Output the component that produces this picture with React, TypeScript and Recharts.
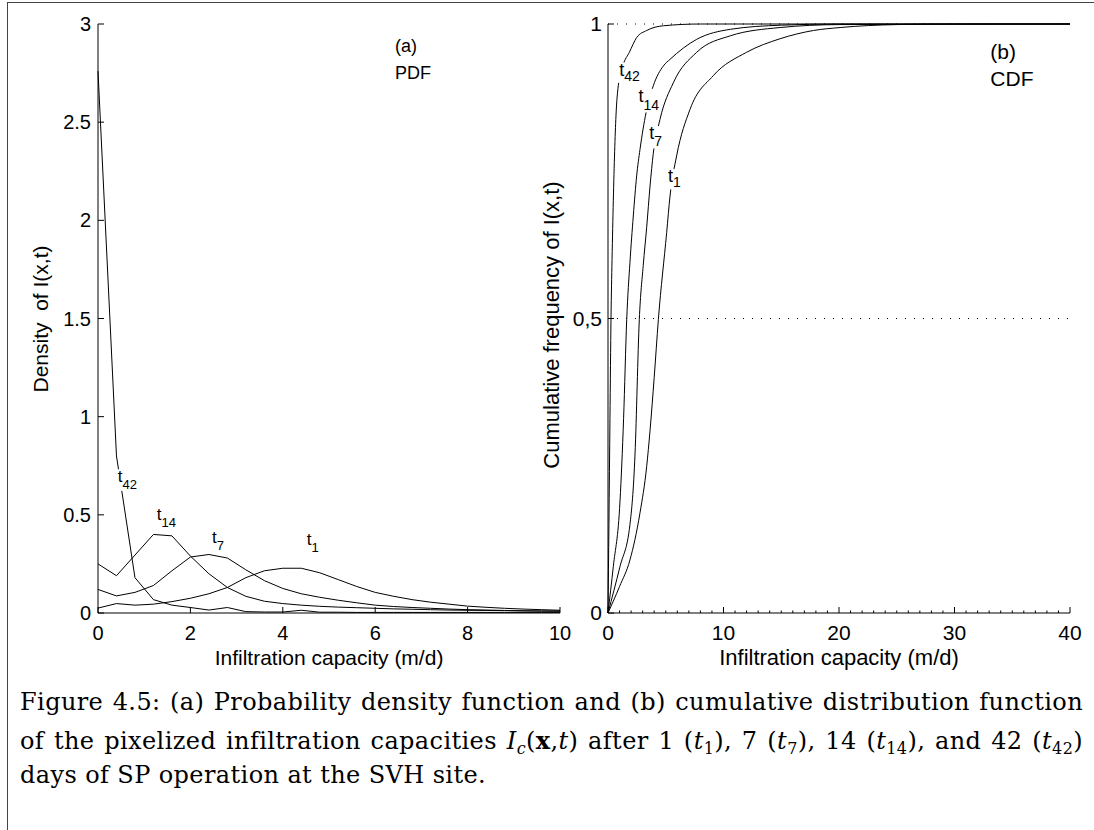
import React from 'react';
import { LineChart, Line, XAxis, YAxis, ReferenceDot, ReferenceLine, Label } from 'recharts';

const SANS = '"Liberation Sans", Arial, Helvetica, sans-serif';
const SERIF = '"DejaVu Serif", "Liberation Serif", serif';

// (a) PDF: densities on a 0.4 m/d grid
const pdfX = [0, 0.4, 0.8, 1.2, 1.6, 2.0, 2.4, 2.8, 3.2, 3.6, 4.0, 4.4, 4.8, 5.2, 5.6, 6.0, 6.4, 6.8, 7.2, 7.6, 8.0, 8.4, 8.8, 9.2, 9.6, 10.0];
const pdfT1 = [0.025, 0.048, 0.04, 0.045, 0.058, 0.075, 0.098, 0.13, 0.18, 0.215, 0.228, 0.228, 0.205, 0.17, 0.135, 0.105, 0.085, 0.068, 0.055, 0.045, 0.035, 0.029, 0.024, 0.02, 0.017, 0.014];
const pdfT7 = [0.12, 0.087, 0.105, 0.14, 0.215, 0.285, 0.298, 0.28, 0.22, 0.165, 0.125, 0.098, 0.08, 0.065, 0.052, 0.04, 0.033, 0.028, 0.024, 0.02, 0.017, 0.015, 0.013, 0.011, 0.01, 0.009];
const pdfT14 = [0.25, 0.19, 0.295, 0.4, 0.393, 0.29, 0.2, 0.13, 0.085, 0.06, 0.048, 0.04, 0.034, 0.03, 0.027, 0.024, 0.021, 0.019, 0.017, 0.015, 0.014, 0.013, 0.012, 0.011, 0.01, 0.01];
const pdfT42 = [2.76, 0.8, 0.18, 0.068, 0.04, 0.028, 0.015, 0.028, 0.007, 0.005, 0.005, 0.014, 0.004, 0.004, 0.003, 0.003, 0.003, 0.003, 0.003, 0.003, 0.003, 0.003, 0.003, 0.003, 0.003, 0.003];

// (b) CDF: cumulative frequency read at irregular capacities
const cdfT1X = [0, 1, 1.9, 2.77, 3.35, 3.64, 4.0, 4.36, 5.08, 5.37, 5.94, 7.1, 9.1, 12, 14.9, 17.8, 20.1, 25, 30, 40];
const cdfT1Y = [0, 0.045, 0.09, 0.17, 0.249, 0.31, 0.4, 0.498, 0.646, 0.708, 0.776, 0.855, 0.912, 0.952, 0.975, 0.989, 0.994, 0.999, 1, 1];
const cdfT7X = [0, 1.04, 1.9, 2.34, 2.71, 3.05, 3.35, 3.64, 3.92, 4.5, 5.65, 7.68, 10.6, 14.9, 20, 40];
const cdfT7Y = [0, 0.079, 0.15, 0.27, 0.498, 0.59, 0.655, 0.725, 0.78, 0.838, 0.9, 0.952, 0.98, 0.994, 0.999, 1];
const cdfT14X = [0, 0.46, 1.04, 1.35, 1.62, 1.9, 2.19, 2.48, 2.77, 3.3, 3.92, 4.8, 5.37, 7.68, 10.6, 15, 20, 40];
const cdfT14Y = [0, 0.079, 0.19, 0.33, 0.498, 0.595, 0.674, 0.742, 0.787, 0.85, 0.895, 0.929, 0.94, 0.974, 0.991, 0.998, 1, 1];
const cdfT42X = [0, 0.08, 0.17, 0.26, 0.35, 0.46, 0.69, 0.89, 1.3, 1.85, 2.48, 3.35, 4.8, 8, 40];
const cdfT42Y = [0, 0.15, 0.33, 0.5, 0.6, 0.7, 0.844, 0.895, 0.93, 0.952, 0.977, 0.989, 0.997, 1, 1];

const pdfXTicks = [0, 2, 4, 6, 8, 10];
const pdfYTicks = [0, 0.5, 1, 1.5, 2, 2.5, 3];
const cdfYTicks = [0, 0.5, 1];
const cdfYLabels = ['0', '0,5', '1'];
const cdfXMajor = [0, 10, 20, 30, 40];
const cdfXTicks = Array.from({ length: 41 }, (_, i) => i);

const pdfRows = pdfX.map((x, i) => ({ x, t1: pdfT1[i], t7: pdfT7[i], t14: pdfT14[i], t42: pdfT42[i] }));
const toPoints = (xs: number[], ys: number[]) => xs.map((x, i) => ({ x, y: ys[i] }));

// curve tags: "t" with a subscript, on a white patch that breaks the line behind it
const curveTag = (sub: string, fs: number, subFs: number, subDy: number) => (p: any) => {
  const { cx, cy } = p;
  const w = fs * 0.28 + sub.length * subFs * 0.556 + 3;
  return (
    <g>
      <rect x={cx - 2} y={cy - fs * 0.74} width={w} height={fs * 0.74 + subDy + 2} fill="#fff" />
      <text x={cx} y={cy} fontSize={fs} fontFamily={SANS} fill="#000">
        t
        <tspan dy={subDy} fontSize={subFs}>{sub}</tspan>
      </text>
    </g>
  );
};

const panelTag = (text: string, fs: number) => (p: any) => (
  <text x={p.cx} y={p.cy} fontSize={fs} fontFamily={SANS} fill="#000">{text}</text>
);

const CdfXTick = (props: any) => {
  const { x, y, payload } = props;
  const axisY = y - 18;
  const major = cdfXMajor.includes(payload.value);
  return (
    <g>
      <line x1={x} x2={x} y1={axisY} y2={axisY - (major ? 6 : 2.5)} stroke="#000" strokeWidth={1} />
      {major && (
        <text x={x} y={axisY + 27} textAnchor="middle" fontSize={21} fontFamily={SANS} fill="#000">
          {payload.value}
        </text>
      )}
    </g>
  );
};

const PdfChart = () => (
  <LineChart width={580} height={680} data={pdfRows} margin={{ top: 24, right: 20, bottom: 27, left: 0 }}>
    <XAxis
      dataKey="x"
      type="number"
      domain={[0, 10]}
      ticks={pdfXTicks}
      interval={0}
      height={40}
      tickSize={-6}
      tickMargin={19}
      stroke="#000"
      tick={{ fill: '#000', fontSize: 20, fontFamily: SANS }}
    >
      <Label
        content={(p: any) => (
          <text x={p.viewBox.x + p.viewBox.width / 2} y={665} textAnchor="middle" fontSize={21} fontFamily={SANS} fill="#000">
            Infiltration capacity (m/d)
          </text>
        )}
      />
    </XAxis>
    <YAxis
      type="number"
      domain={[0, 3]}
      ticks={pdfYTicks}
      interval={0}
      width={98}
      tickSize={-6}
      tickMargin={13}
      stroke="#000"
      tick={{ fill: '#000', fontSize: 20, fontFamily: SANS }}
    >
      <Label
        content={() => (
          <text
            x={48}
            y={319}
            transform="rotate(-90 48 319)"
            textAnchor="middle"
            fontSize={21}
            fontFamily={SANS}
            fill="#000"
            style={{ whiteSpace: 'pre' }}
          >
            {'Density  of I(x,t)'}
          </text>
        )}
      />
    </YAxis>
    <Line dataKey="t42" type="linear" stroke="#000" strokeWidth={1} dot={false} isAnimationActive={false} />
    <Line dataKey="t14" type="linear" stroke="#000" strokeWidth={1} dot={false} isAnimationActive={false} />
    <Line dataKey="t7" type="linear" stroke="#000" strokeWidth={1} dot={false} isAnimationActive={false} />
    <Line dataKey="t1" type="linear" stroke="#000" strokeWidth={1} dot={false} isAnimationActive={false} />
    <ReferenceDot x={0.43} y={0.668} r={0} shape={curveTag('42', 17, 13, 7)} />
    <ReferenceDot x={1.27} y={0.474} r={0} shape={curveTag('14', 17, 13, 7)} />
    <ReferenceDot x={2.47} y={0.358} r={0} shape={curveTag('7', 17, 13, 7)} />
    <ReferenceDot x={4.52} y={0.346} r={0} shape={curveTag('1', 17, 13, 7)} />
    <ReferenceDot x={6.43} y={2.855} r={0} shape={panelTag('(a)', 18)} />
    <ReferenceDot x={6.43} y={2.72} r={0} shape={panelTag('PDF', 18)} />
  </LineChart>
);

const CdfChart = () => (
  <LineChart width={564} height={680} margin={{ top: 24, right: 24, bottom: 27, left: 0 }}>
    <XAxis
      dataKey="x"
      type="number"
      domain={[0, 40]}
      ticks={cdfXTicks}
      interval={0}
      height={40}
      tickSize={0}
      tickMargin={18}
      tickLine={false}
      stroke="#000"
      tick={<CdfXTick />}
      allowDuplicatedCategory={false}
    >
      <Label
        content={(p: any) => (
          <text x={p.viewBox.x + p.viewBox.width / 2} y={665} textAnchor="middle" fontSize={22} fontFamily={SANS} fill="#000">
            Infiltration capacity (m/d)
          </text>
        )}
      />
    </XAxis>
    <YAxis
      type="number"
      domain={[0, 1]}
      ticks={cdfYTicks}
      interval={0}
      width={78}
      tickSize={-6}
      tickMargin={12}
      stroke="#000"
      tickFormatter={(v: number) => cdfYLabels[cdfYTicks.indexOf(v)]}
      tick={{ fill: '#000', fontSize: 21, fontFamily: SANS }}
    >
      <Label
        content={() => (
          <text x={29} y={325} transform="rotate(-90 29 325)" textAnchor="middle" fontSize={22} fontFamily={SANS} fill="#000">
            Cumulative frequency of I(x,t)
          </text>
        )}
      />
    </YAxis>
    <ReferenceLine y={1} stroke="#000" strokeWidth={1} strokeDasharray="1 8" />
    <ReferenceLine y={0.5} stroke="#000" strokeWidth={1} strokeDasharray="1 8" />
    <Line data={toPoints(cdfT42X, cdfT42Y)} dataKey="y" type="monotone" stroke="#000" strokeWidth={1} dot={false} isAnimationActive={false} />
    <Line data={toPoints(cdfT14X, cdfT14Y)} dataKey="y" type="monotone" stroke="#000" strokeWidth={1} dot={false} isAnimationActive={false} />
    <Line data={toPoints(cdfT7X, cdfT7Y)} dataKey="y" type="monotone" stroke="#000" strokeWidth={1} dot={false} isAnimationActive={false} />
    <Line data={toPoints(cdfT1X, cdfT1Y)} dataKey="y" type="monotone" stroke="#000" strokeWidth={1} dot={false} isAnimationActive={false} />
    <ReferenceDot x={0.98} y={0.912} r={0} shape={curveTag('42', 18, 14, 5)} />
    <ReferenceDot x={2.63} y={0.867} r={0} shape={curveTag('14', 18, 14, 8)} />
    <ReferenceDot x={3.58} y={0.804} r={0} shape={curveTag('7', 18, 14, 7)} />
    <ReferenceDot x={5.19} y={0.731} r={0} shape={curveTag('1', 18, 14, 5)} />
    <ReferenceDot x={33.1} y={0.941} r={0} shape={panelTag('(b)', 21)} />
    <ReferenceDot x={33.1} y={0.895} r={0} shape={panelTag('CDF', 21)} />
  </LineChart>
);

const captionLine: React.CSSProperties = {
  position: 'absolute',
  left: 20,
  width: 1063,
  fontFamily: SERIF,
  fontSize: 24,
  lineHeight: '25px',
  letterSpacing: '0.4px',
  color: '#000',
  whiteSpace: 'nowrap',
};
const justified: React.CSSProperties = { textAlign: 'justify', textAlignLast: 'justify' };
const subStyle: React.CSSProperties = { fontSize: 16, verticalAlign: '-5px', lineHeight: 0 };

export default function App() {
  return (
    <div style={{ position: 'absolute', left: 0, top: 0, width: 1094, height: 830, overflow: 'hidden', background: '#fff' }}>
      <div style={{ position: 'absolute', left: 7, top: 2, width: 1100, height: 900, border: '1.5px solid #444' }} />
      <div style={{ position: 'absolute', left: 0, top: 0 }}>
        <PdfChart />
      </div>
      <div style={{ position: 'absolute', left: 530, top: 0 }}>
        <CdfChart />
      </div>
      <div style={{ ...captionLine, ...justified, top: 690 }}>
        Figure 4.5: (a) Probability density function and (b) cumulative distribution function
      </div>
      <div style={{ ...captionLine, ...justified, top: 728 }}>
        of the pixelized infiltration capacities <i>I</i>
        <i style={subStyle}>c</i>(<b>x</b>,<i>t</i>) after 1 (<i>t</i>
        <span style={subStyle}>1</span>), 7 (<i>t</i>
        <span style={subStyle}>7</span>), 14 (<i>t</i>
        <span style={subStyle}>14</span>), and 42 (<i>t</i>
        <span style={subStyle}>42</span>)
      </div>
      <div style={{ ...captionLine, top: 763 }}>days of SP operation at the SVH site.</div>
    </div>
  );
}
